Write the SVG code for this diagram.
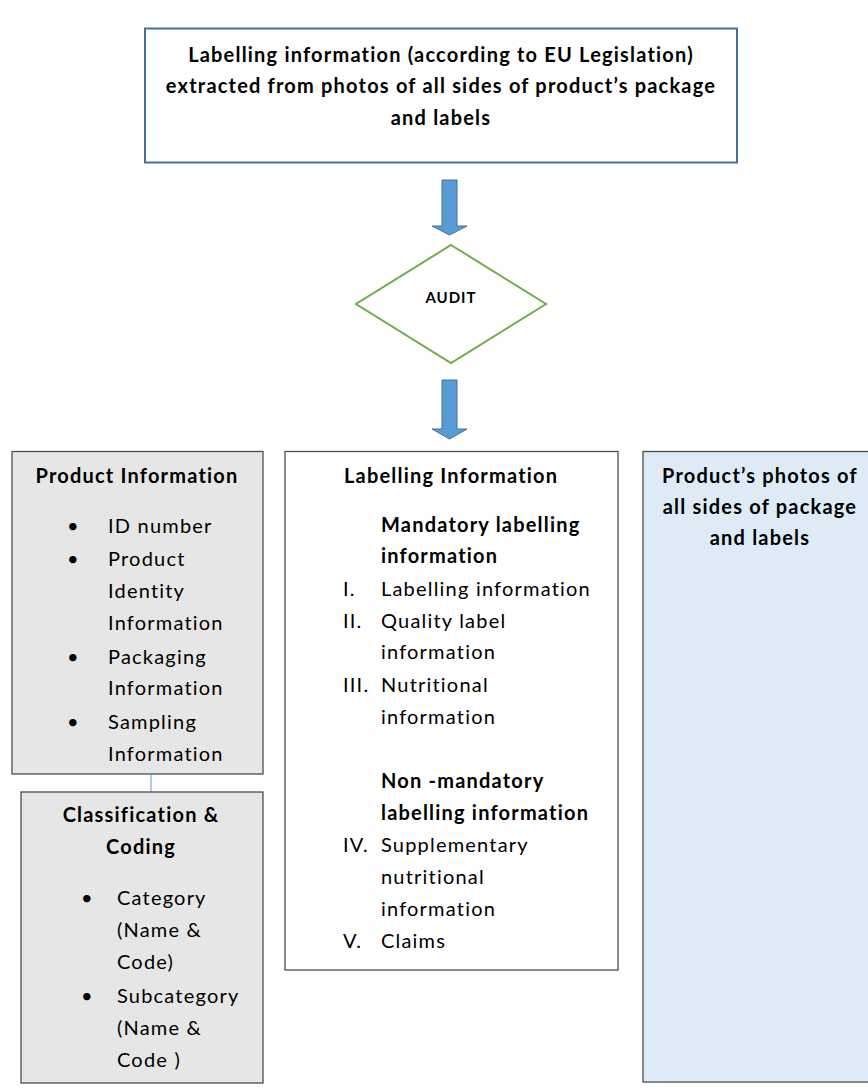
<svg xmlns="http://www.w3.org/2000/svg" width="868" height="1092" viewBox="0 0 868 1092">
<defs>
<linearGradient id="topline" x1="0" y1="0" x2="1" y2="0">
<stop offset="0" stop-color="#5B9BD5"/>
<stop offset="0.45" stop-color="#8DB8E2"/>
<stop offset="1" stop-color="#C9DDF0"/>
</linearGradient>
</defs>
<style>
text{font-family:Lato,"Liberation Sans",sans-serif;fill:#000;font-size:20px;letter-spacing:1.2px}
.b{font-weight:bold}
.c{text-anchor:middle}
.box{stroke:#4d4d4d;stroke-width:1.3}
.arrow{fill:#5B9BD5;stroke:#41719C;stroke-width:1}
</style>
<rect x="0" y="0" width="868" height="1092" fill="#fff"/>
<line x1="12" y1="12" x2="868" y2="12" stroke="url(#topline)" stroke-width="1.5"/>

<g id="source">
<rect x="145" y="28.5" width="592" height="134" fill="#fff" stroke="#41719C" stroke-width="2"/>
<text class="b c" x="441" y="62">Labelling information (according to EU Legislation)</text>
<text class="b c" x="441" y="93">extracted from photos of all sides of product’s package</text>
<text class="b c" x="441" y="125">and labels</text>
</g>

<g id="connectors">
<path class="arrow" d="M442,180 H457 V226 H467 L449.5,235 L432,226 H442 Z"/>
<path class="arrow" d="M442,380 H457 V429 H467 L449.5,439 L432,429 H442 Z"/>
<line x1="151" y1="774.5" x2="151" y2="792" stroke="#5B9BD5" stroke-width="1"/>
</g>

<g id="audit">
<polygon points="451,245 546,304 451,363 356,304" fill="#fff" stroke="#70AD47" stroke-width="2"/>
<text class="b c" x="451" y="303" style="font-size:15px;letter-spacing:1px">AUDIT</text>
</g>

<g id="product-information">
<rect class="box" x="12" y="451.5" width="251" height="322.5" fill="#E7E6E6"/>
<text class="b c" x="137" y="483">Product Information</text>
<text x="67" y="533">•</text><text x="108" y="533">ID number</text>
<text x="67" y="566">•</text><text x="108" y="566">Product</text>
<text x="108" y="598">Identity</text>
<text x="108" y="630">Information</text>
<text x="67" y="664">•</text><text x="108" y="664">Packaging</text>
<text x="108" y="695">Information</text>
<text x="67" y="729">•</text><text x="108" y="729">Sampling</text>
<text x="108" y="761">Information</text>
</g>

<g id="classification">
<rect class="box" x="21" y="792" width="242" height="291" fill="#E7E6E6"/>
<text class="b c" x="141" y="822">Classification &amp;</text>
<text class="b c" x="141" y="854">Coding</text>
<text x="81" y="905">•</text><text x="117" y="905">Category</text>
<text x="117" y="937">(Name &amp;</text>
<text x="117" y="969">Code)</text>
<text x="81" y="1003">•</text><text x="117" y="1003">Subcategory</text>
<text x="117" y="1035">(Name &amp;</text>
<text x="117" y="1067">Code )</text>
</g>

<g id="labelling-information">
<rect class="box" x="285" y="451.5" width="333" height="518.5" fill="#fff"/>
<text class="b" x="344" y="483">Labelling Information</text>
<text class="b" x="381" y="532">Mandatory labelling</text>
<text class="b" x="381" y="563">information</text>
<text x="343" y="596">I.</text><text x="381" y="596">Labelling information</text>
<text x="343" y="628">II.</text><text x="381" y="628">Quality label</text>
<text x="381" y="659">information</text>
<text x="343" y="692">III.</text><text x="381" y="692">Nutritional</text>
<text x="381" y="724">information</text>
<text class="b" x="381" y="788">Non -mandatory</text>
<text class="b" x="381" y="820">labelling information</text>
<text x="343" y="852">IV.</text><text x="381" y="852">Supplementary</text>
<text x="381" y="884">nutritional</text>
<text x="381" y="916">information</text>
<text x="343" y="948">V.</text><text x="381" y="948">Claims</text>
</g>

<g id="photos">
<rect class="box" x="643" y="451.5" width="240" height="630.5" fill="#DEEAF6"/>
<text class="b c" x="760" y="483">Product’s photos of</text>
<text class="b c" x="760" y="514">all sides of package</text>
<text class="b c" x="760" y="545">and labels</text>
</g>
</svg>
